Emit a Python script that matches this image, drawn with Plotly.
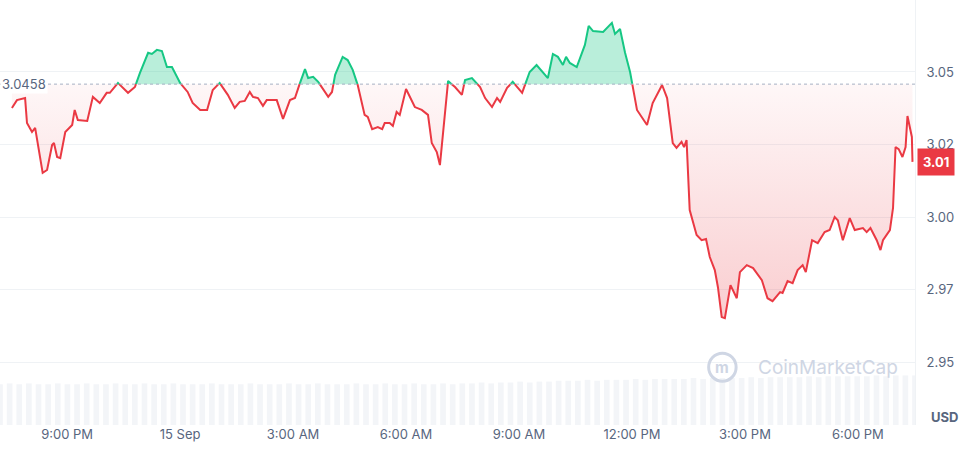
import pandas as pd
import plotly.graph_objects as go

# Prices (14-15 Sep), baseline = opening price
base_price = 3.0458
last_label = "3.01"

times = [
    "19:32", "19:40", "19:53", "19:56", "20:04", "20:09", "20:21", "20:28", "20:36", "20:39",
    "20:44", "20:49", "20:57", "21:08", "21:12", "21:17", "21:32", "21:41", "21:52", "22:03",
    "22:08", "22:21", "22:37", "22:48", "22:56", "23:09", "23:15", "23:23", "23:31", "23:39",
    "23:47", "00:00", "00:12", "00:20", "00:32", "00:43", "00:52", "01:03", "01:16", "01:27",
    "01:35", "01:43", "01:51", "01:56", "02:04", "02:12", "02:18", "02:34", "02:44", "02:55",
    "03:03", "03:11", "03:19", "03:24", "03:32", "03:40", "03:56", "04:02", "04:07", "04:19",
    "04:27", "04:35", "04:43", "04:54", "04:59", "05:06", "05:15", "05:22", "05:26", "05:34",
    "05:39", "05:45", "05:50", "06:00", "06:14", "06:25", "06:35", "06:41", "06:49", "06:54",
    "07:02", "07:07", "07:18", "07:29", "07:34", "07:45", "07:58", "08:06", "08:17", "08:25",
    "08:30", "08:41", "08:50", "09:05", "09:17", "09:28", "09:46", "09:54", "10:02", "10:10",
    "10:15", "10:21", "10:32", "10:45", "10:51", "10:58", "11:14", "11:28", "11:33", "11:41",
    "11:49", "11:57", "12:08", "12:24", "12:33", "12:48", "12:56", "13:05", "13:11", "13:19",
    "13:23", "13:27", "13:32", "13:43", "13:51", "13:58", "14:04", "14:12", "14:17", "14:23",
    "14:28", "14:37", "14:47", "14:52", "15:03", "15:13", "15:27", "15:36", "15:44", "15:56",
    "16:00", "16:08", "16:16", "16:24", "16:32", "16:37", "16:47", "16:56", "17:07", "17:15",
    "17:23", "17:28", "17:36", "17:47", "17:55", "18:08", "18:14", "18:20", "18:30", "18:36",
    "18:40", "18:51", "18:56", "19:00", "19:05", "19:11", "19:16", "19:19", "19:26", "19:27",
]

prices = [
    3.0376, 3.0403, 3.0410, 3.0324, 3.0293, 3.0307, 3.0152, 3.0162, 3.0248, 3.0255,
    3.0207, 3.0203, 3.0293, 3.0317, 3.0369, 3.0334, 3.0331, 3.0414, 3.0393, 3.0428,
    3.0428, 3.0462, 3.0428, 3.0448, 3.0497, 3.0566, 3.0562, 3.0576, 3.0572, 3.0517,
    3.0517, 3.0462, 3.0431, 3.0393, 3.0369, 3.0369, 3.0438, 3.0462, 3.0421, 3.0376,
    3.0397, 3.0400, 3.0431, 3.0414, 3.0410, 3.0383, 3.0403, 3.0403, 3.0338, 3.0403,
    3.0410, 3.0462, 3.0510, 3.0479, 3.0483, 3.0466, 3.0414, 3.0431, 3.0490, 3.0552,
    3.0541, 3.0507, 3.0455, 3.0352, 3.0345, 3.0303, 3.0310, 3.0303, 3.0324, 3.0324,
    3.0314, 3.0362, 3.0352, 3.0441, 3.0379, 3.0369, 3.0352, 3.0255, 3.0224, 3.0179,
    3.0345, 3.0469, 3.0448, 3.0421, 3.0472, 3.0479, 3.0448, 3.0410, 3.0379, 3.0410,
    3.0397, 3.0445, 3.0466, 3.0428, 3.0500, 3.0524, 3.0479, 3.0562, 3.0552, 3.0524,
    3.0552, 3.0531, 3.0517, 3.0593, 3.0659, 3.0641, 3.0638, 3.0669, 3.0631, 3.0648,
    3.0566, 3.0500, 3.0369, 3.0317, 3.0393, 3.0455, 3.0410, 3.0255, 3.0238, 3.0259,
    3.0241, 3.0265, 3.0024, 2.9938, 2.9920, 2.9924, 2.9862, 2.9817, 2.9758, 2.9655,
    2.9651, 2.9765, 2.9720, 2.9810, 2.9834, 2.9824, 2.9782, 2.9720, 2.9710, 2.9741,
    2.9738, 2.9779, 2.9772, 2.9817, 2.9834, 2.9810, 2.9920, 2.9910, 2.9948, 2.9955,
    3.0000, 2.9989, 2.9920, 2.9996, 2.9955, 2.9962, 2.9948, 2.9962, 2.9920, 2.9886,
    2.9920, 2.9955, 3.0031, 3.0241, 3.0234, 3.0207, 3.0241, 3.0348, 3.0276, 3.0190,
]

# faint volume bars along the bottom (relative units)
volume = [
    46, 47, 46, 47, 46, 46, 47, 46, 46, 47, 46, 46, 47, 46, 46, 47,
    46, 46, 47, 46, 46, 46, 47, 46, 46, 46, 47, 46, 46, 46, 47, 46,
    46, 47, 46, 46, 46, 47, 46, 46, 47, 46, 46, 47, 46, 46, 47, 46,
    47, 47, 48, 47, 48, 48, 49, 48, 49, 49, 50, 50, 50, 51, 50, 51,
    51, 51, 52, 51, 52, 52, 52, 52, 53, 52, 53, 53, 53, 53, 54, 53,
    54, 54, 54, 54, 55, 54, 55, 55, 55, 55, 55, 56, 55, 56, 56, 56,
]

y_ticks = [3.05, 3.025, 3.0, 2.975, 2.95]
y_tick_text = ["3.05", "3.02", "3.00", "2.97", "2.95"]
x_ticks = ["2024-09-14 21:00", "2024-09-15 00:00", "2024-09-15 03:00", "2024-09-15 06:00",
           "2024-09-15 09:00", "2024-09-15 12:00", "2024-09-15 15:00", "2024-09-15 18:00"]
x_tick_text = ["9:00 PM", "15 Sep", "3:00 AM", "6:00 AM", "9:00 AM", "12:00 PM", "3:00 PM", "6:00 PM"]

# build timestamps
ts = []
day = "2024-09-14"
prev = None
for t in times:
    if prev is not None and t < prev:
        day = "2024-09-15"
    ts.append(pd.Timestamp(f"{day} {t}"))
    prev = t

# insert crossing points at the baseline so the colours split cleanly
xs, ys = [ts[0]], [prices[0]]
for i in range(1, len(prices)):
    p0, p1 = prices[i - 1], prices[i]
    if (p0 - base_price) * (p1 - base_price) < 0:
        f = (base_price - p0) / (p1 - p0)
        xs.append(ts[i - 1] + (ts[i] - ts[i - 1]) * f)
        ys.append(base_price)
    xs.append(ts[i])
    ys.append(p1)

up = [v if v >= base_price else None for v in ys]
dn = [v if v <= base_price else None for v in ys]
up_fill = [max(v, base_price) for v in ys]
dn_fill = [min(v, base_price) for v in ys]
base_line = [base_price] * len(ys)

green = "#16c784"
red = "#ea3943"

x_start = pd.Timestamp("2024-09-14 19:13")
x_end = pd.Timestamp("2024-09-15 19:31")
vol_x = pd.date_range(x_start, x_end, periods=len(volume))

fig = go.Figure()

fig.add_trace(go.Bar(x=vol_x, y=volume, marker_color="#f3f5f8", marker_line_width=0,
                     yaxis="y2", hoverinfo="skip", width=9 * 60 * 1000))

fig.add_trace(go.Scatter(x=xs, y=base_line, mode="lines", line=dict(width=0), hoverinfo="skip"))
fig.add_trace(go.Scatter(x=xs, y=up_fill, mode="lines", line=dict(width=0), fill="tonexty",
                         fillcolor="rgba(22,199,132,0.3)", hoverinfo="skip"))
fig.add_trace(go.Scatter(x=xs, y=base_line, mode="lines", line=dict(width=0), hoverinfo="skip"))
fig.add_trace(go.Scatter(
    x=xs, y=dn_fill, mode="lines", line=dict(width=0), fill="tonexty",
    fillgradient=dict(type="vertical",
                      colorscale=[[0, "rgba(234,57,67,0.25)"], [1, "rgba(234,57,67,0.04)"]]),
    hoverinfo="skip"))

fig.add_trace(go.Scatter(x=xs, y=up, mode="lines", line=dict(color=green, width=2)))
fig.add_trace(go.Scatter(x=xs, y=dn, mode="lines", line=dict(color=red, width=2)))

# dotted baseline
fig.add_hline(y=base_price, line=dict(color="#a6b0c3", width=1, dash="dot"))

fig.add_annotation(x=0, xref="paper", y=base_price, yref="y", text=f"{base_price}",
                   showarrow=False, xanchor="left", bgcolor="white",
                   font=dict(size=13, color="#58667e"))

fig.add_annotation(x=1, xref="paper", y=prices[-1], yref="y", text=f"<b>{last_label}</b>",
                   showarrow=False, xanchor="left", xshift=2, bgcolor=red, borderpad=5,
                   font=dict(size=13, color="white"))

fig.add_annotation(x=1, xref="paper", y=0, yref="paper", text="<b>USD</b>",
                   showarrow=False, xanchor="left", yanchor="bottom", xshift=14, yshift=-2,
                   font=dict(size=13, color="#58667e"))

# watermark
fig.add_annotation(x=0.905, xref="paper", y=0.136, yref="paper", text="CoinMarketCap",
                   showarrow=False, xanchor="center", yanchor="middle",
                   font=dict(size=19, color="#cfd6e4"))
fig.add_shape(type="circle", xref="paper", yref="paper", x0=0.7745, x1=0.8045, y0=0.103, y1=0.169,
              line=dict(color="#cfd6e4", width=3))
fig.add_annotation(x=0.7895, xref="paper", y=0.136, yref="paper", text="<b>m</b>",
                   showarrow=False, xanchor="center", yanchor="middle",
                   font=dict(size=15, color="#cfd6e4"))

fig.update_layout(
    width=979, height=458,
    margin=dict(l=0, r=64, t=0, b=33),
    plot_bgcolor="white", paper_bgcolor="white",
    showlegend=False,
    font=dict(family="Inter", size=13, color="#58667e"),
    xaxis=dict(range=[x_start, x_end], tickvals=x_ticks, ticktext=x_tick_text,
               showgrid=False, zeroline=False, showline=False, ticks=""),
    yaxis=dict(range=[2.9283, 3.0748], side="right", tickvals=y_ticks, ticktext=y_tick_text,
               gridcolor="#eff2f5", zeroline=False, showline=True, linecolor="#eff2f5",
               ticks="", ticklabelstandoff=8),
    yaxis2=dict(range=[0, 480], overlaying="y", visible=False),
)

fig.write_html("out.html", config={"displayModeBar": False},
               post_script="document.body.style.margin='0';")
